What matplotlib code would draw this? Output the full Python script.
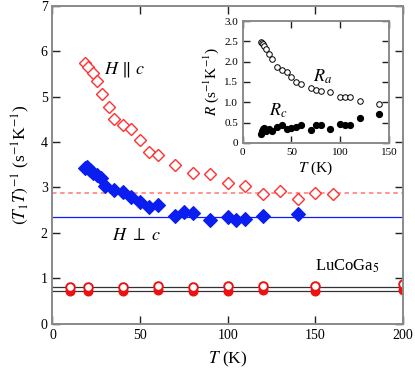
import matplotlib
matplotlib.use("Agg")
import matplotlib.pyplot as plt

plt.rcParams["font.family"] = ["Liberation Serif", "DejaVu Serif"]
plt.rcParams["mathtext.fontset"] = "stix"

# H || c (red open diamonds)
T_par = [18.5, 20.4, 22.9, 25.6, 28, 32.2, 35.1, 40, 45, 50, 55, 60, 70, 80, 90,
         100, 110, 120, 130, 140, 150, 160]
R_par = [5.74, 5.66, 5.52, 5.35, 5.07, 4.77, 4.52, 4.38, 4.28, 4.05, 3.79, 3.72,
         3.50, 3.31, 3.29, 3.09, 3.04, 2.85, 2.93, 2.75, 2.87, 2.86]
# H perp c (blue filled diamonds)
T_perp = [18.5, 19.9, 21.4, 23.3, 25.6, 27.5, 30, 35, 40, 45, 50, 55, 60, 70, 75,
          80, 90, 100, 105, 110, 120, 140]
R_perp = [3.44, 3.46, 3.39, 3.33, 3.28, 3.22, 3.04, 2.95, 2.91, 2.78, 2.69, 2.58,
          2.61, 2.37, 2.47, 2.43, 2.28, 2.34, 2.28, 2.30, 2.37, 2.42]
level_par = 2.87
level_perp = 2.34

# LuCoGa5 reference
T_lu = [10, 20, 40, 60, 80, 100, 120, 150, 200]
lu_open = [0.81, 0.81, 0.81, 0.84, 0.81, 0.82, 0.82, 0.82, 0.88]
lu_fill = [0.72, 0.71, 0.73, 0.74, 0.73, 0.73, 0.75, 0.73, 0.74]
lu_levels = [0.80, 0.73]

# inset: Ra, Rc
T_in = [18.5, 19.5, 20.5, 22, 24, 27, 30, 35, 40, 45, 50, 55, 60, 70, 75, 80, 90,
        100, 105, 110, 120, 140]
Ra = [2.48, 2.47, 2.43, 2.38, 2.32, 2.20, 2.07, 1.86, 1.80, 1.74, 1.62, 1.50, 1.46,
      1.35, 1.31, 1.27, 1.25, 1.14, 1.13, 1.12, 1.02, 0.96]
Rc = [0.22, 0.28, 0.33, 0.36, 0.30, 0.34, 0.29, 0.38, 0.43, 0.34, 0.37, 0.38, 0.43,
      0.31, 0.45, 0.45, 0.33, 0.47, 0.43, 0.45, 0.61, 0.72]

RED = "#ff3030"
BLUE = "#0a1ef0"
SPINE = "#8a8a8a"

fig = plt.figure(figsize=(4.15, 3.72), dpi=100)
ax = fig.add_axes([0.1265, 0.130, 0.8445, 0.854])


def style_axes(a, size, length):
    for s in a.spines.values():
        s.set_color(SPINE)
        s.set_linewidth(1.4)
    a.tick_params(direction="in", top=True, right=True, labelsize=size,
                  length=length, width=1.0, color="#222222")


ax.axhline(level_par, color="#ff8a8a", lw=1.3, ls=(0, (2.5, 2)))
ax.axhline(level_perp, color=BLUE, lw=0.9)
for lv in lu_levels:
    ax.axhline(lv, color="#333333", lw=0.9)

ax.plot(T_par, R_par, "D", ms=6.5, mfc="white", mec=RED, mew=1.0, ls="none")
ax.plot(T_perp, R_perp, "D", ms=7, mfc=BLUE, mec=BLUE, mew=0.8, ls="none")
ax.plot(T_lu, lu_fill, "o", ms=6.2, color="#ee1111", ls="none")
ax.plot(T_lu, lu_open, "o", ms=6.2, mfc="white", mec="#ee1111", mew=1.4, ls="none")

ax.set_xlim(0, 200)
ax.set_ylim(0, 7)
ax.set_xticks([0, 50, 100, 150, 200])
ax.set_yticks(range(8))
style_axes(ax, 10, 6)
ax.set_xlabel(r"$T$ (K)", fontsize=12.5, labelpad=6)
ax.set_ylabel(r"$(T_1T)^{-1}$ (s$^{-1}$K$^{-1}$)", fontsize=12.5, labelpad=6)

ax.text(41, 5.59, r"$H\ \|\ c$", fontsize=13, ha="center", va="center")
ax.text(48, 1.95, r"$H\ \perp\ c$", fontsize=13, ha="center", va="center")
ax.text(168.5, 1.27, r"LuCoGa$_5$", fontsize=12, ha="center", va="center")

# inset
ins = fig.add_axes([0.585, 0.616, 0.352, 0.3275])
ins.plot(T_in, Ra, "o", ms=4, mfc="white", mec="black", mew=0.7, ls="none")
ins.plot(T_in, Rc, "o", ms=4.2, color="black", ls="none")
ins.set_xlim(0, 150)
ins.set_ylim(0, 3)
ins.set_xticks([0, 50, 100, 150])
ins.set_yticks([0, 0.5, 1.0, 1.5, 2.0, 2.5, 3.0])
ins.set_yticklabels(["0", "0.5", "1.0", "1.5", "2.0", "2.5", "3.0"])
style_axes(ins, 8, 5)
ins.set_xlabel(r"$T$ (K)", fontsize=11, labelpad=2)
ins.set_ylabel(r"$R$ (s$^{-1}$K$^{-1}$)", fontsize=11, labelpad=2)
ins.text(81.5, 1.62, r"$R_a$", fontsize=13, ha="center", va="center")
ins.text(36, 0.79, r"$R_c$", fontsize=13, ha="center", va="center")

fig.savefig("out.png", dpi=100)
